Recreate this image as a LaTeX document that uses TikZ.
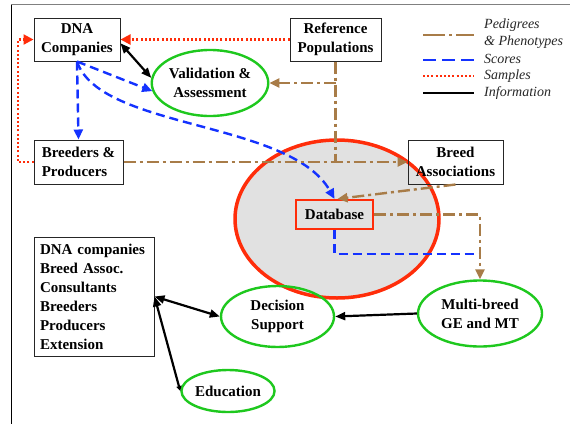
\documentclass[tikz,border=0pt]{standalone}
\usepackage{fontspec}
\setmainfont{Liberation Serif}
\usetikzlibrary{arrows.meta,shapes.geometric,calc}
\definecolor{pbrown}{RGB}{168,124,72}
\definecolor{sblue}{RGB}{20,50,255}
\definecolor{sred}{RGB}{255,45,10}
\definecolor{egreen}{RGB}{30,200,30}
\definecolor{dbgray}{RGB}{225,225,225}
\tikzset{
  boxnode/.style={draw=black!85,line width=1pt,inner sep=0pt,font=\bfseries\fontsize{15}{19}\selectfont},
  ellnode/.style={ellipse,draw=egreen,line width=2.4pt,inner sep=0pt,align=center,font=\bfseries\fontsize{15}{19}\selectfont},
  pedline/.style={draw=pbrown,line width=2.4pt,dash pattern=on 12pt off 4pt on 3pt off 4pt},
  scoreline/.style={draw=sblue,line width=2.4pt,dash pattern=on 9pt off 5pt},
  sampleline/.style={draw=sred,line width=2.2pt,dash pattern=on 2pt off 2.2pt},
  infoline/.style={draw=black,line width=2.2pt},
  tipb/.style={-{Triangle[length=10pt,width=9pt]}},
  legtext/.style={anchor=west,inner sep=0pt,font=\itshape\fontsize{14}{17}\selectfont,text=black!85},
}
\begin{document}
\begin{tikzpicture}[x=1pt,y=-1pt]
\useasboundingbox (0,0) rectangle (570,424);
% frame
\draw[gray,line width=1pt] (11,4.5) -- (570,4.5);
\draw[black,line width=1pt] (11,4.5) -- (11,424);

% big database ellipse
\node[ellipse,draw=sred,fill=dbgray,line width=3.5pt,minimum width=204pt,minimum height=158pt,inner sep=0pt] (big) at (337,219) {};

% nodes
\node[boxnode,minimum width=86pt,minimum height=43pt,align=center] (dna) at (77,39.5) {DNA\\Companies};
\node[boxnode,minimum width=91pt,minimum height=43pt,align=center] (ref) at (335.5,39.5) {Reference\\Populations};
\node[boxnode,minimum width=89pt,minimum height=44pt,align=left] (bp) at (78.5,162) {Breeders \&\\Producers};
\node[boxnode,minimum width=95pt,minimum height=44pt,align=center] (ba) at (455.5,162) {Breed\\Associations};
\node[boxnode,minimum width=120pt,minimum height=119pt,align=left,text width=108pt] (lst) at (94,296.5) {DNA companies\\Breed Assoc.\\Consultants\\Breeders\\Producers\\Extension};
\node[draw=sred,line width=2.2pt,fill=dbgray,minimum width=77pt,minimum height=29pt,inner sep=0pt,font=\bfseries\fontsize{15}{19}\selectfont] (db) at (334.5,214.5) {Database};

\node[ellnode,minimum width=110pt,minimum height=66pt] (val) at (210,83) {Validation \&\\Assessment};
\node[ellnode,minimum width=113pt,minimum height=61pt] (ds) at (277.5,316.5) {Decision\\Support};
\node[ellnode,minimum width=90pt,minimum height=42pt] (edu) at (228,391) {Education};
\node[ellnode,minimum width=124pt,minimum height=66pt] (mb) at (480,313.5) {Multi-breed\\GE and MT};

% samples (red dotted)
\draw[sampleline,-{Triangle[length=10pt,width=10pt]},sred] (ref.west) -- (dna.east);
\coordinate (rl) at (18,100);
\draw[sampleline,-{Triangle[length=10pt,width=10pt]},sred] (bp.west) -| (rl) |- (dna.west);

% scores (blue dashed)
\draw[scoreline,tipb,sblue] (dna.south) -- (bp.north);
\draw[scoreline,tipb,sblue] (dna.south) -- (val.188);
\draw[scoreline,tipb,sblue] (dna.south) .. controls (100,130) and (290,120) .. (db.north);
\coordinate (bl) at (480,254);
\draw[scoreline] (db.south) |- (bl);

% pedigrees (brown dash-dot)
\draw[pedline] (ref.south) -- (ref.south |- bp.east);
\draw[pedline,tipb,pbrown] (ref.south |- val.east) -- (val.east);
\draw[pedline,tipb,pbrown] (bp.east) -- (ba.west);
\draw[pedline,tipb,pbrown] (ba.south) -- ($(db.north)+(3,0)$);
\draw[pedline,tipb,pbrown] (db.east) -| (mb.north);

% information (black)
\draw[infoline,{Triangle[length=10pt,width=8pt]}-{Triangle[length=10pt,width=8pt]}] (dna.-5) -- (val.175);
\draw[infoline,-{Triangle[length=10pt,width=8pt]}] (mb.west) -- (ds.east);
\draw[infoline,{Triangle[length=10pt,width=8pt]}-{Triangle[length=10pt,width=8pt]}] (lst.east) -- (ds.west);
\draw[infoline,{Triangle[length=10pt,width=8pt]}-{Triangle[length=5pt,width=5pt]}] (lst.east) -- (edu.west);

% legend
\coordinate (l1a) at (423,35); \coordinate (l1b) at (474,35);
\coordinate (l2a) at (423,60); \coordinate (l2b) at (474,60);
\coordinate (l3a) at (423,76); \coordinate (l3b) at (474,76);
\coordinate (l4a) at (423,93); \coordinate (l4b) at (474,93);
\draw[pedline,dash pattern=on 22pt off 4pt on 3pt off 4pt] (l1a) -- (l1b);
\draw[scoreline,dash pattern=on 13pt off 6pt] (l2a) -- (l2b);
\draw[sampleline] (l3a) -- (l3b);
\draw[infoline] (l4a) -- (l4b);
\node[legtext,align=left] (lp) at (484,33.5) {Pedigrees\\\& Phenotypes};
\node[legtext] (ls) at (484,59) {Scores};
\node[legtext] (lsa) at (484,76) {Samples};
\node[legtext] (li) at (484,93) {Information};
\end{tikzpicture}
\end{document}
